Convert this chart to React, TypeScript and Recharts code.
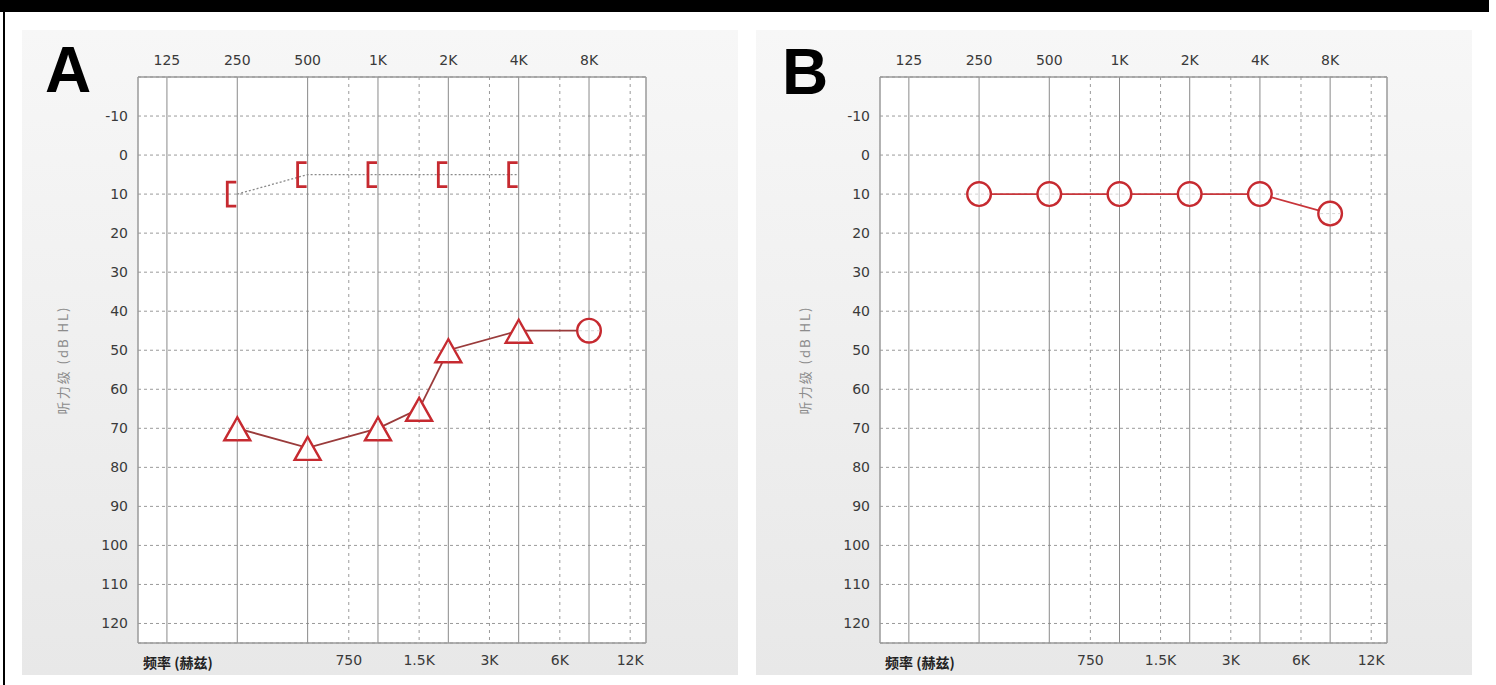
import { LineChart, Line, XAxis, YAxis, CartesianGrid, ReferenceLine } from 'recharts';

// frequency axis (Hz), log scale
const TOP_TICKS = [125, 250, 500, 1000, 2000, 4000, 8000];
const TOP_LABELS = ['125', '250', '500', '1K', '2K', '4K', '8K'];
const BOTTOM_TICKS = [750, 1500, 3000, 6000, 12000];
const BOTTOM_LABELS = ['750', '1.5K', '3K', '6K', '12K'];
const DB_TICKS = [-10, 0, 10, 20, 30, 40, 50, 60, 70, 80, 90, 100, 110, 120];

// panel A
const boneFreqA = [250, 500, 1000, 2000, 4000];
const boneA = [10, 5, 5, 5, 5];
const airFreqA = [250, 500, 1000, 1500, 2000, 4000, 8000];
const airA = [70, 75, 70, 65, 50, 45, 45];
const airSymA = ['tri', 'tri', 'tri', 'tri', 'tri', 'tri', 'circle'];

// panel B
const airFreqB = [250, 500, 1000, 2000, 4000, 8000];
const airB = [10, 10, 10, 10, 10, 15];
const airSymB = ['circle', 'circle', 'circle', 'circle', 'circle', 'circle'];

const X_DOMAIN = [94, 14025];
const Y_DOMAIN = [-20, 125];
const RED = '#c62a30';
const GRID = '#9a9a9a';
const FONT = '"DejaVu Sans", Verdana, sans-serif';

const rows = (freqs: number[], vals: number[], syms?: string[]) =>
  freqs.map((f, i) => ({ f, db: vals[i], sym: syms ? syms[i] : 'bracket' }));

function Marker(props: any) {
  const { cx, cy, payload, index } = props;
  const key = `m-${index}`;
  if (cx == null || cy == null) return <g key={key} />;
  if (payload.sym === 'bracket') {
    return (
      <path
        key={key}
        d={`M ${cx - 1} ${cy - 12} H ${cx - 10} V ${cy + 12} H ${cx - 1}`}
        fill="none"
        stroke={RED}
        strokeWidth={2.8}
      />
    );
  }
  if (payload.sym === 'tri') {
    return (
      <g key={key}>
        <polygon
          points={`${cx},${cy - 11} ${cx - 13},${cy + 12} ${cx + 13},${cy + 12}`}
          fill="#fff"
          stroke={RED}
          strokeWidth={2.4}
        />
        <line x1={cx} x2={cx} y1={cy - 8} y2={cy + 11} stroke="#c8c8c8" strokeWidth={1} />
      </g>
    );
  }
  return (
    <g key={key}>
      <circle cx={cx} cy={cy} r={11.8} fill="#fff" stroke={RED} strokeWidth={2.4} />
      <line x1={cx} x2={cx} y1={cy - 10} y2={cy + 10} stroke="#c8c8c8" strokeWidth={1} />
      <line x1={cx - 10} x2={cx + 10} y1={cy} y2={cy} stroke="#d4d4d4" strokeWidth={1} strokeDasharray="3 3" />
    </g>
  );
}

interface Props {
  left: number;
  marginLeft: number;
  marginRight: number;
  bone?: { f: number; db: number; sym: string }[];
  air: { f: number; db: number; sym: string }[];
  airStroke: string;
}

function Audiogram({ left, marginLeft, marginRight, bone, air, airStroke }: Props) {
  return (
    <div
      style={{
        position: 'absolute',
        left,
        top: 30,
        width: 716,
        height: 645,
        background: 'linear-gradient(#f7f7f7, #e8e8e8)',
      }}
    >
      <LineChart
        width={716}
        height={645}
        margin={{ top: 17, right: marginRight, bottom: 2, left: marginLeft }}
      >
        <CartesianGrid
          xAxisId="top"
          yAxisId="db"
          vertical={false}
          stroke={GRID}
          strokeDasharray="3 3"
          fill="#fff"
        />
        <XAxis
          xAxisId="top"
          orientation="top"
          dataKey="f"
          type="number"
          scale="log"
          domain={X_DOMAIN}
          allowDataOverflow
          ticks={TOP_TICKS}
          interval={0}
          tickFormatter={(v) => TOP_LABELS[TOP_TICKS.indexOf(v)]}
          tick={{ fill: '#3a3a3a', fontSize: 14, fontFamily: FONT }}
          tickLine={false}
          tickSize={10}
          axisLine={{ stroke: GRID, strokeWidth: 1.5 }}
          height={30}
        />
        <XAxis
          xAxisId="bottom"
          orientation="bottom"
          dataKey="f"
          type="number"
          scale="log"
          domain={X_DOMAIN}
          allowDataOverflow
          ticks={BOTTOM_TICKS}
          interval={0}
          tickFormatter={(v) => BOTTOM_LABELS[BOTTOM_TICKS.indexOf(v)]}
          tick={{ fill: '#3a3a3a', fontSize: 14, fontFamily: FONT }}
          tickLine={false}
          tickSize={10}
          axisLine={{ stroke: GRID, strokeWidth: 1.5 }}
          height={30}
          label={{
            value: '频率 (赫兹)',
            position: 'insideBottomLeft',
            offset: 5,
            style: { fill: '#222', fontSize: 14, fontWeight: 600, fontFamily: '"Noto Sans CJK SC", sans-serif' },
          }}
        />
        <YAxis
          yAxisId="db"
          type="number"
          domain={Y_DOMAIN}
          reversed
          allowDataOverflow
          ticks={DB_TICKS}
          interval={0}
          tick={{ fill: '#3a3a3a', fontSize: 14, fontFamily: FONT }}
          tickLine={false}
          tickSize={8}
          axisLine={{ stroke: GRID, strokeWidth: 1.5 }}
          width={80}
          label={{
            value: '听力级 (dB HL)',
            angle: -90,
            position: 'insideLeft',
            offset: 5,
            style: { textAnchor: 'middle', fill: '#8c8c8c', fontSize: 13, fontFamily: '"Noto Sans CJK SC", sans-serif', letterSpacing: 2 },
          }}
        />
        <YAxis
          yAxisId="edge"
          orientation="right"
          type="number"
          domain={Y_DOMAIN}
          reversed
          tick={false}
          tickLine={false}
          axisLine={{ stroke: GRID, strokeWidth: 1.5 }}
          width={1}
        />
        {TOP_TICKS.map((f) => (
          <ReferenceLine key={`o-${f}`} x={f} xAxisId="top" yAxisId="db" stroke="#8a8a8a" strokeWidth={1} />
        ))}
        {BOTTOM_TICKS.map((f) => (
          <ReferenceLine
            key={`h-${f}`}
            x={f}
            xAxisId="top"
            yAxisId="db"
            stroke={GRID}
            strokeWidth={1}
            strokeDasharray="3 4"
          />
        ))}
        {bone && (
          <Line
            data={bone}
            xAxisId="top"
            yAxisId="db"
            dataKey="db"
            stroke="#8a8a8a"
            strokeWidth={1.3}
            strokeDasharray="2 2"
            dot={Marker}
            activeDot={false}
            isAnimationActive={false}
          />
        )}
        <Line
          data={air}
          xAxisId="top"
          yAxisId="db"
          dataKey="db"
          stroke={airStroke}
          strokeWidth={1.8}
          dot={Marker}
          activeDot={false}
          isAnimationActive={false}
        />
      </LineChart>
    </div>
  );
}

const letterStyle = {
  position: 'absolute' as const,
  fontFamily: '"Liberation Sans", Arial, sans-serif',
  fontWeight: 700,
  fontSize: 64,
  lineHeight: '64px',
  color: '#000',
};

export default function App() {
  return (
    <div style={{ position: 'absolute', left: 0, top: 0, width: 1496, height: 685, background: '#fff', overflow: 'hidden' }}>
      <div style={{ position: 'absolute', left: 0, top: 0, width: 1489, height: 12, background: '#000' }} />
      <div style={{ position: 'absolute', left: 3, top: 0, width: 2, height: 685, background: '#000' }} />
      <Audiogram
        left={22}
        marginLeft={36}
        marginRight={91}
        bone={rows(boneFreqA, boneA)}
        air={rows(airFreqA, airA, airSymA)}
        airStroke="#9a3b3b"
      />
      <Audiogram
        left={756}
        marginLeft={44}
        marginRight={84}
        air={rows(airFreqB, airB, airSymB)}
        airStroke="#c8353a"
      />
      <div style={{ ...letterStyle, left: 45, top: 38 }}>A</div>
      <div style={{ ...letterStyle, left: 782, top: 40 }}>B</div>
    </div>
  );
}
